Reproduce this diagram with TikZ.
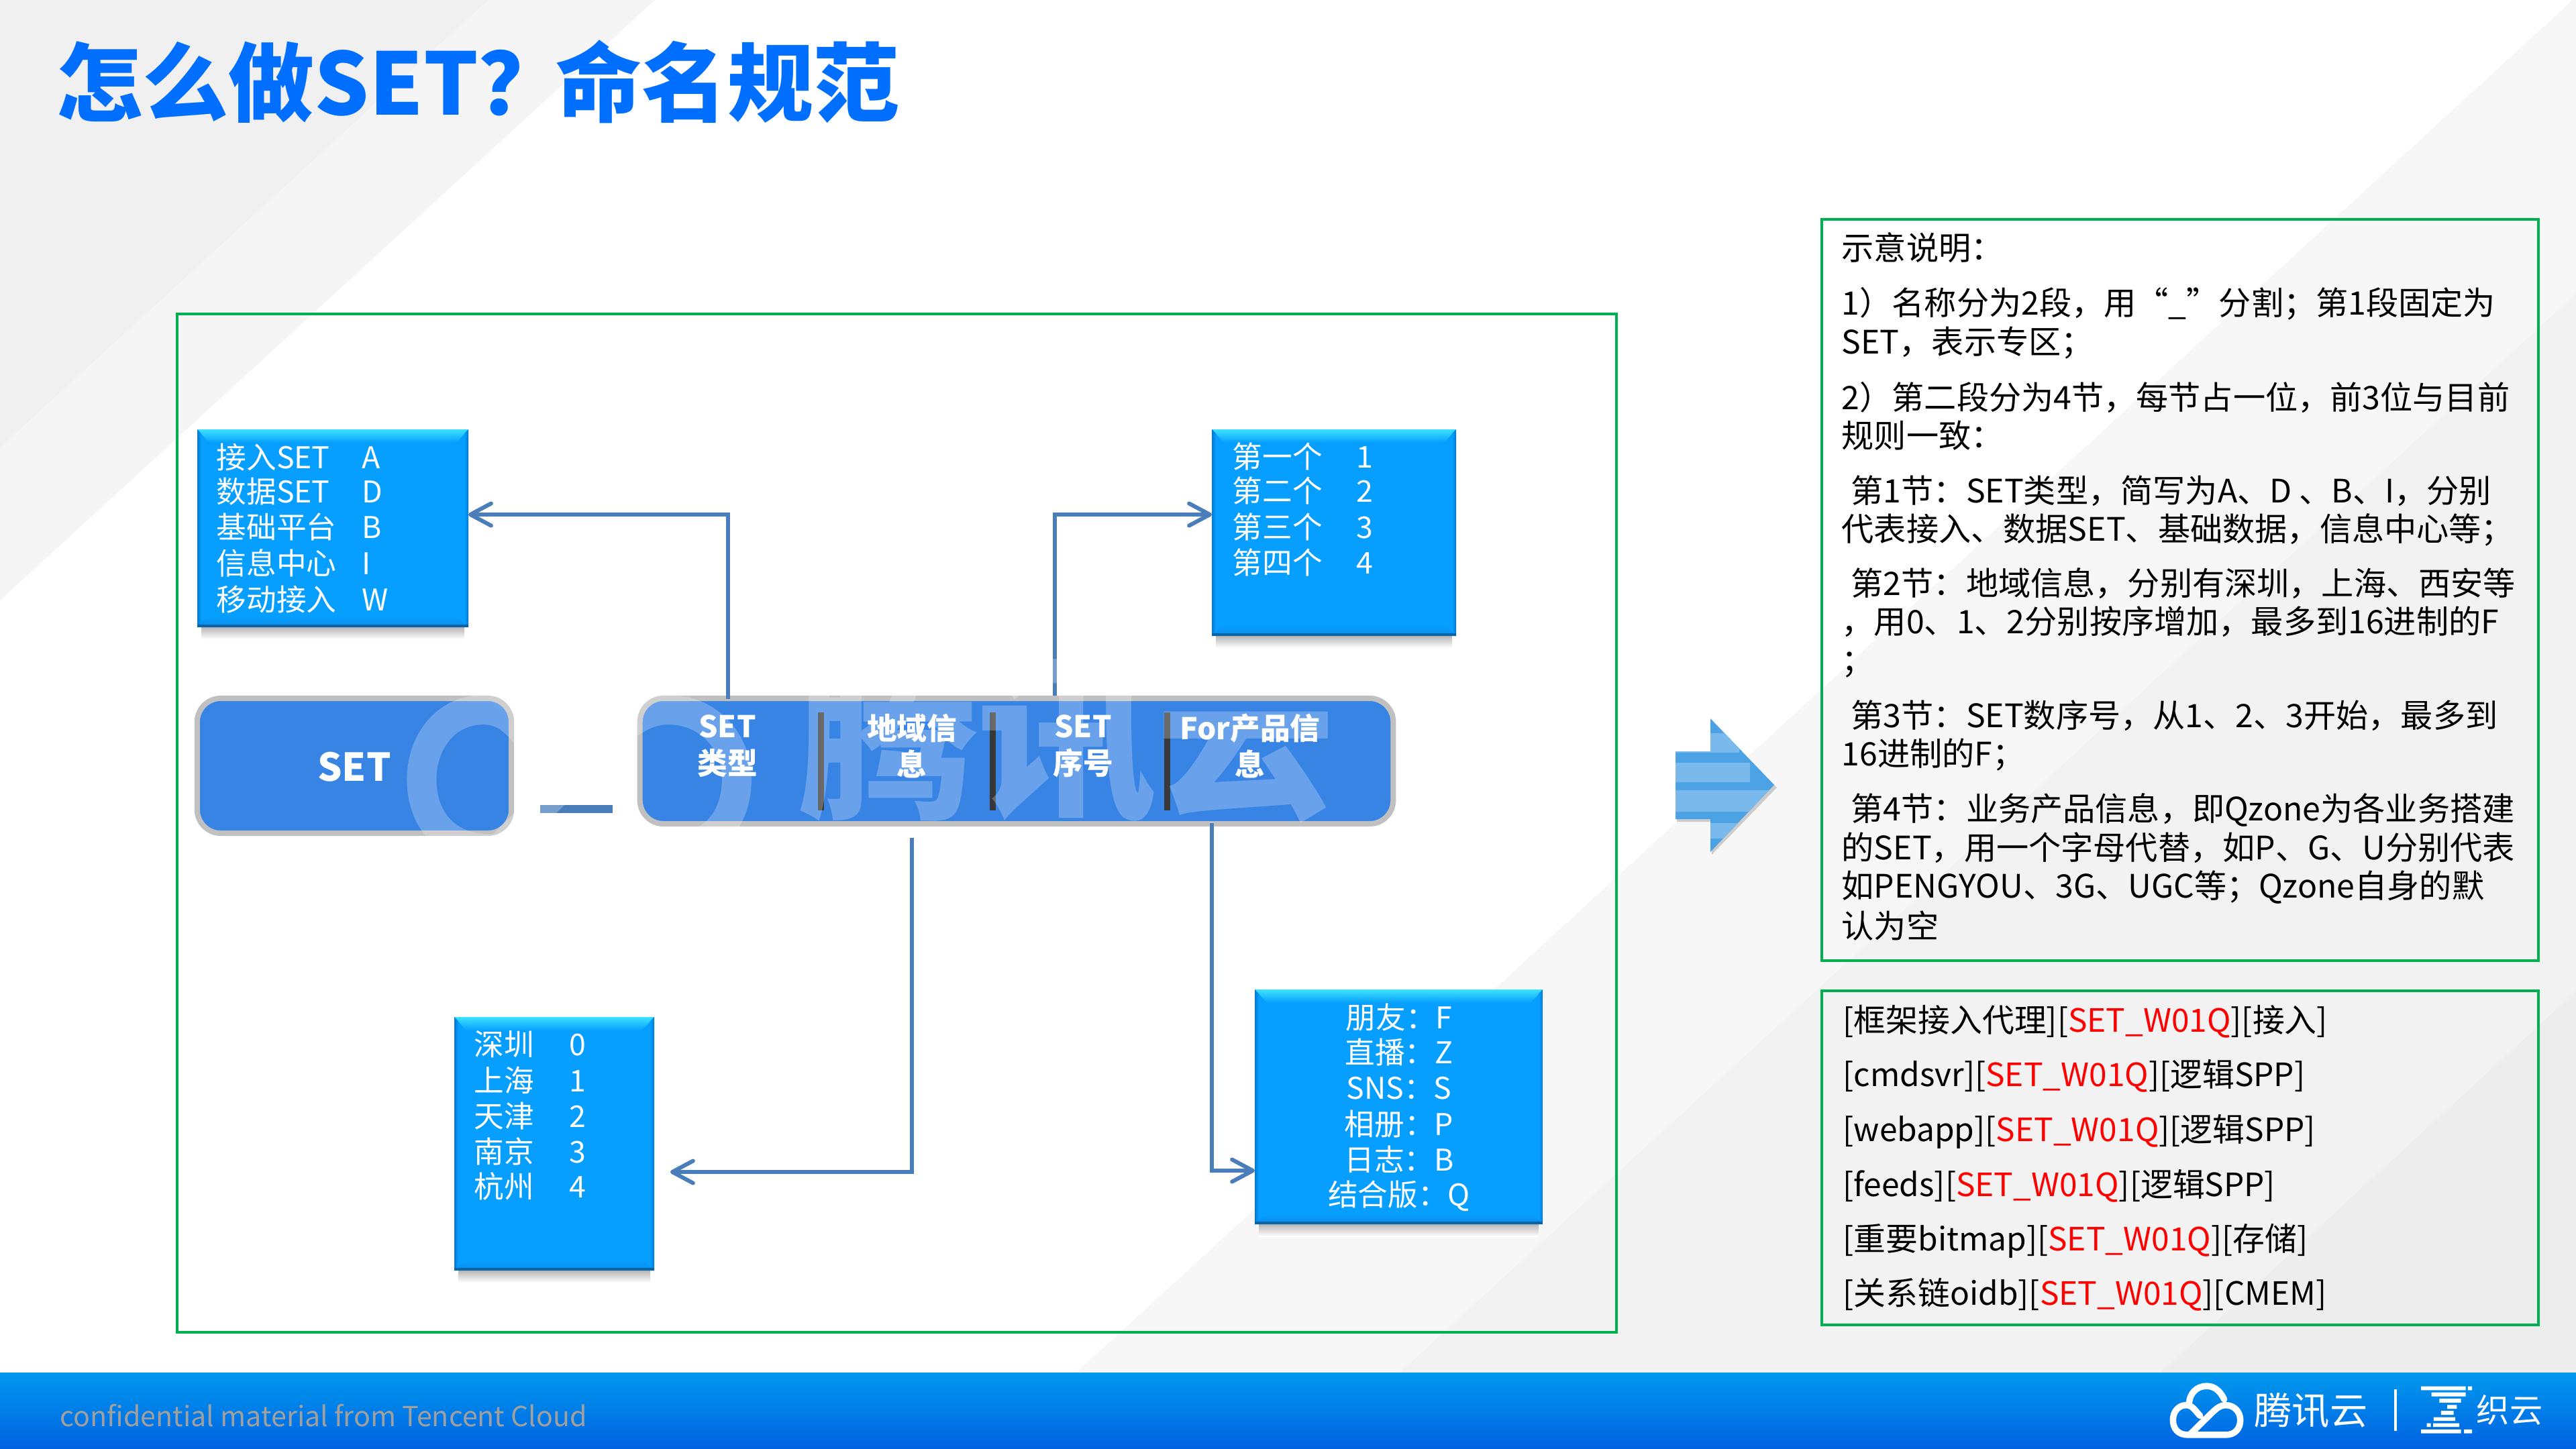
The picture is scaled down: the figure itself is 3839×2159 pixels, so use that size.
\documentclass[tikz,border=0pt]{standalone}
\usepackage{fontspec}
\setmainfont{Noto Sans CJK SC}
\usetikzlibrary{arrows.meta,fit}
\definecolor{titleblue}{HTML}{006EFF}
\definecolor{framegreen}{HTML}{00B050}
\definecolor{boxblue}{HTML}{069EFF}
\definecolor{boxlip}{HTML}{3DE2FF}
\definecolor{boxedge}{HTML}{0578CC}
\definecolor{boxlow}{HTML}{0A8CE8}
\definecolor{boxdark}{HTML}{0A64A4}
\definecolor{barblue}{HTML}{3884E4}
\definecolor{bargray}{HTML}{C0C0C0}
\definecolor{linkblue}{HTML}{4A7EBB}
\definecolor{arrowblue}{HTML}{4BA3E6}
\definecolor{arrowlight}{HTML}{79B9EB}
\definecolor{foottop}{HTML}{0099EE}
\definecolor{footlow}{HTML}{0062E2}
\definecolor{footgray}{HTML}{A0A0A0}
\tikzset{
  frame/.style = {draw = framegreen, line width = 1.15pt},
  boxbase/.style = {fill = boxblue, inner sep = 0pt, outer sep = 0pt},
  boxtxt/.style = {text = white, anchor = west, inner sep = 0pt, font = \fontsize{12.7}{15}\selectfont, text height = 11pt, text depth = 2pt},
  boxmid/.style = {boxtxt, anchor = center},
  roundbar/.style = {draw = bargray, fill = barblue, line width = 2.3pt, rounded corners = 10pt},
  barlabel/.style = {text = white, align = center, inner sep = 0pt, font = \fontsize{12.7}{15.6}\selectfont\bfseries},
  sepbar/.style = {fill = black!78, inner sep = 0pt, minimum width = 0.09cm, minimum height = 1.45cm},
  link/.style = {draw = linkblue, line width = 1.7pt, -{Straight Barb[length = 8.8pt, width = 9.4pt, round]}},
  note/.style = {anchor = west, inner sep = 0pt, font = \fontsize{13.7}{16}\selectfont, text height = 12pt, text depth = 2pt},
  listing/.style = {note, font = \fontsize{13.6}{16}\selectfont},
}
\newcommand{\bevelbox}[5]{
  \shade[top color = black!28, bottom color = white] (#2+6,#5) rectangle (#4-6,#5+18);
  \coordinate (#1nw) at (#2,#3);
  \coordinate (#1se) at (#4,#5);
  \node[boxbase, fit = (#1nw)(#1se)] (#1) {};
  \shade[top color = boxlip, bottom color = boxblue] (#2,#3) -- (#4,#3) -- (#4-18,#3+20) -- (#2+18,#3+20) -- cycle;
  \shade[left color = boxedge, right color = boxblue] (#2,#3) -- (#2+6,#3+6) -- (#2+6,#5-6) -- (#2,#5) -- cycle;
  \shade[left color = boxblue, right color = boxedge] (#4,#3) -- (#4-6,#3+6) -- (#4-6,#5-6) -- (#4,#5) -- cycle;
  \shade[top color = boxblue, bottom color = boxlow] (#2,#5) -- (#4,#5) -- (#4-16,#5-16) -- (#2+16,#5-16) -- cycle;
  \fill[boxdark] (#2,#5-4) rectangle (#4,#5);
}
\newcommand{\keyval}[3]{\makebox[#1][l]{#2}#3}
\newcommand{\setname}{\textcolor{red}{SET\_W01Q}}
\newcommand{\cloudpath}{(0.74,0.29) .. controls (0.68,0.12) and (0.6,0.04) .. (0.5,0.04) .. controls (0.36,0.04) and (0.27,0.18) .. (0.26,0.36) (0.41,0.60) .. controls (0.33,0.48) and (0.3,0.40) .. (0.22,0.40) .. controls (0.11,0.40) and (0.04,0.53) .. (0.04,0.68) .. controls (0.04,0.84) and (0.11,0.96) .. (0.24,0.96) -- (0.76,0.96) .. controls (0.89,0.96) and (0.96,0.84) .. (0.96,0.68) .. controls (0.96,0.53) and (0.88,0.40) .. (0.76,0.40) .. controls (0.68,0.40) and (0.62,0.48) .. (0.56,0.56) -- (0.28,0.94)}
\begin{document}
\begin{tikzpicture}[x = 0.01cm, y = -0.01cm]
\useasboundingbox (0,0) rectangle (3839,2159);
\fill[white] (0,0) rectangle (3839,2159);
\fill[black!4] (0,0) -- (976,0) -- (0,895) -- cycle;
\fill[black!6] (0,0) -- (727,0) -- (0,667) -- cycle;
\fill[black!3] (3834,0) -- (3839,0) -- (3839,2159) -- (1481,2159) -- cycle;
\fill[black!5] (3839,438) -- (3839,2159) -- (1963,2159) -- cycle;
\fill[black!7] (3839,1478) -- (3839,2159) -- (3097,2159) -- cycle;

\shade[top color = foottop, bottom color = footlow] (0,2046) rectangle (3839,2159);
\node[anchor = west, inner sep = 0pt, text = footgray, font = \fontsize{11.7}{14}\selectfont] (footnote) at (89,2110){confidential material from Tencent Cloud};
\draw[white, line width = 2.7pt, line cap = round, shift = {(3234,2063)}, x = 1.09cm, y = -0.79cm] \cloudpath;
\node[text = white, inner sep = 0pt, font = \fontsize{16}{18}\selectfont] (footcloud) at (3444,2103){腾讯云};
\fill[white] (3568,2071) rectangle (3572,2133);
\fill[white, shift = {(3100,2020)}, x = 0.00472cm, y = -0.00333cm] (1077,140) rectangle (1218,157) (1225,140) rectangle (1238,157) (1110,167) rectangle (1218,185) (1135,195) rectangle (1203,213) (1160,223) rectangle (1190,241) (1140,250) rectangle (1180,268) (1117,278) rectangle (1185,295) (1095,305) rectangle (1108,322) (1115,305) rectangle (1198,322) (1077,333) rectangle (1203,350) (1213,333) rectangle (1238,350);
\node[text = white, inner sep = 0pt, font = \fontsize{14}{16}\selectfont] (footweave) at (3740,2102){织云};

\node[anchor = west, inner sep = 0pt, text = titleblue, font = \fontsize{36.4}{40}\selectfont\bfseries] (title) at (84,122){怎么做SET？\kern-3.5pt 命名规范};

\draw[frame] (264,468) rectangle (2409,1986);
\draw[frame] (2715,327) rectangle (3783,1432);
\draw[frame] (2715,1477) rectangle (3783,1975);

\bevelbox{boxtype}{294}{640}{698}{935}
\bevelbox{boxorder}{1806}{640}{2170}{948}
\bevelbox{boxregion}{677}{1516}{975}{1894}
\bevelbox{boxproduct}{1870}{1475}{2299}{1825}

\node[roundbar, minimum width = 4.68cm, minimum height = 2.01cm] (setbox) at (528,1141.5){};
\node[roundbar, minimum width = 11.22cm, minimum height = 1.87cm] (setbar) at (1515,1134.5){};
\node[boxbase, fill = linkblue, minimum width = 1.07cm, minimum height = 0.12cm] (dash) at (859,1206){};

\node[sepbar] (sepa) at (1223,1135){};
\node[sepbar] (sepb) at (1479,1135){};
\node[sepbar] (sepc) at (1739,1135){};

\node[barlabel, font = \fontsize{16.3}{18}\selectfont\bfseries] (setlabel) at (528,1143){SET};
\node[barlabel] (typelabel) at (1084,1112){SET\\类型};
\node[barlabel] (regionlabel) at (1359,1112){地域信\\息};
\node[barlabel] (orderlabel) at (1614,1112){SET\\序号};
\node[barlabel] (productlabel) at (1863,1112){For产品信\\息};

\coordinate (regionstart) at (1359,1249);
\draw[link, shorten < = -1.4pt] (setbar.north -| 1085,0) |- (boxtype.east |- 0,767);
\draw[link] (setbar.north -| 1572,0) |- (boxorder.west |- 0,767);
\draw[link, shorten > = 6.8pt] (regionstart) |- (boxregion.east |- 0,1747);
\draw[link, shorten < = -1.4pt] (setbar.south -| 1806,0) |- (boxproduct.west |- 0,1745);

\node[boxtxt] (typea) at (322,683){\keyval{61.7pt}{接入SET}{A}};
\node[boxtxt] (typeb) at (322,734){\keyval{61.7pt}{数据SET}{D}};
\node[boxtxt] (typec) at (322,787){\keyval{61.7pt}{基础平台}{B}};
\node[boxtxt] (typed) at (322,841){\keyval{61.7pt}{信息中心}{I}};
\node[boxtxt] (typee) at (322,895){\keyval{61.7pt}{移动接入}{W}};

\node[boxtxt] (ordera) at (1836,682){\keyval{52.6pt}{第一个}{1}};
\node[boxtxt] (orderb) at (1836,733){\keyval{52.6pt}{第二个}{2}};
\node[boxtxt] (orderc) at (1836,787){\keyval{52.6pt}{第三个}{3}};
\node[boxtxt] (orderd) at (1836,840){\keyval{52.6pt}{第四个}{4}};

\node[boxtxt] (regiona) at (706,1558){\keyval{40.4pt}{深圳}{0}};
\node[boxtxt] (regionb) at (706,1612){\keyval{40.4pt}{上海}{1}};
\node[boxtxt] (regionc) at (706,1665){\keyval{40.4pt}{天津}{2}};
\node[boxtxt] (regiond) at (706,1718){\keyval{40.4pt}{南京}{3}};
\node[boxtxt] (regione) at (706,1770){\keyval{40.4pt}{杭州}{4}};

\node[boxmid] (producta) at (2085,1518){朋友：F};
\node[boxmid] (productb) at (2085,1570){直播：Z};
\node[boxmid] (productc) at (2085,1623){SNS：S};
\node[boxmid] (productd) at (2085,1677){相册：P};
\node[boxmid] (producte) at (2085,1730){日志：B};
\node[boxmid] (productf) at (2085,1782){结合版：Q};

\fill[black!20] (2499,1124) -- (2551,1124) -- (2551,1075) -- (2648,1174) -- (2551,1274) -- (2551,1225) -- (2499,1225) -- cycle;
\fill[arrowblue] (2497,1120) -- (2549,1120) -- (2549,1071) -- (2644,1170) -- (2549,1270) -- (2549,1221) -- (2497,1221) -- cycle;
\begin{scope}
\clip (2497,1120) -- (2549,1120) -- (2549,1071) -- (2644,1170) -- (2549,1270) -- (2549,1221) -- (2497,1221) -- cycle;
\fill[arrowlight] (2497,1093) rectangle (2592,1122);
\fill[arrowlight] (2497,1137) rectangle (2608,1166);
\fill[arrowlight] (2497,1178) rectangle (2644,1210);
\fill[arrowlight] (2497,1227) rectangle (2644,1250);
\end{scope}

\node[note] (notea) at (2744,370){示意说明：};
\node[note] (noteb) at (2744,452){1）名称分为2段，用“\_”分割；第1段固定为};
\node[note] (notec) at (2744,510){SET，表示专区；};
\node[note] (noted) at (2744,593){2）第二段分为4节，每节占一位，前3位与目前};
\node[note] (notee) at (2744,650){规则一致：};
\node[note] (notef) at (2758,732){第1节：SET类型，简写为A、D 、B、I，分别};
\node[note] (noteg) at (2744,789){代表接入、数据SET、基础数据，信息中心等；};
\node[note] (noteh) at (2758,870){第2节：地域信息，分别有深圳，上海、西安等};
\node[note] (notei) at (2744,927){，用0、1、2分别按序增加，最多到16进制的F};
\node[note] (notej) at (2744,985){；};
\node[note] (notek) at (2758,1067){第3节：SET数序号，从1、2、3开始，最多到};
\node[note] (notel) at (2744,1124){16进制的F；};
\node[note] (notem) at (2758,1206){第4节：业务产品信息，即Qzone为各业务搭建};
\node[note] (noten) at (2744,1264){的SET，用一个字母代替，如P、G、U分别代表};
\node[note] (noteo) at (2744,1321){如PENGYOU、3G、UGC等；Qzone自身的默};
\node[note] (notep) at (2744,1381){认为空};

\node[listing] (lista) at (2746,1521){[框架接入代理][\setname][接入]};
\node[listing] (listb) at (2746,1602){[cmdsvr][\setname][逻辑SPP]};
\node[listing] (listc) at (2746,1684){[webapp][\setname][逻辑SPP]};
\node[listing] (listd) at (2746,1766){[feeds][\setname][逻辑SPP]};
\node[listing] (liste) at (2746,1847){[重要bitmap][\setname][存储]};
\node[listing] (listf) at (2746,1928){[关系链oidb][\setname][CMEM]};

\draw[white, opacity = 0.25, line width = 12.5pt, shift = {(608,910)}, x = 5.1cm, y = -3.7cm] \cloudpath;
\node[text = white, opacity = 0.25, inner sep = 0pt, font = \fontsize{76}{90}\selectfont\bfseries] (markname) at (1590,1100){腾讯云};
\end{tikzpicture}
\end{document}
